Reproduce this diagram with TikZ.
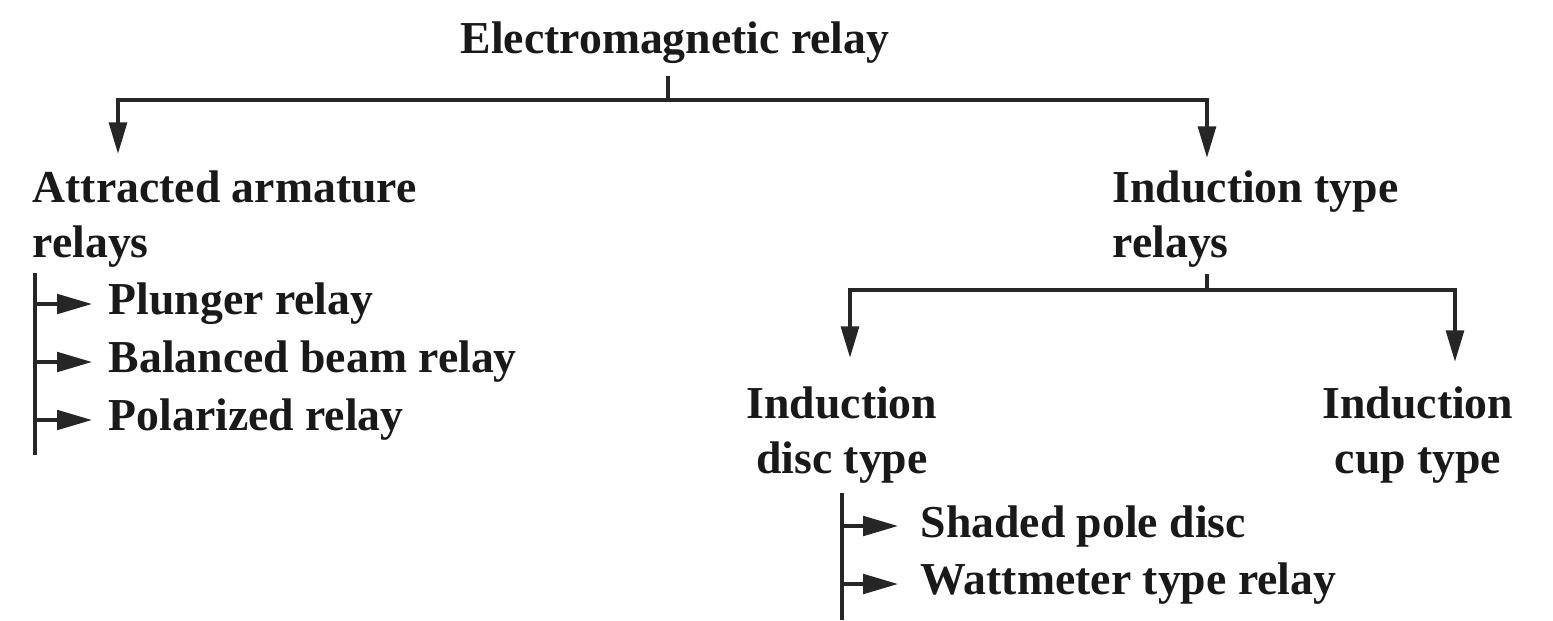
\documentclass[tikz,border=0pt]{standalone}
\usepackage{fontspec}
\setmainfont{Liberation Serif}
\usetikzlibrary{arrows.meta}
\tikzset{
  lbl/.style={font=\fontsize{13}{15.6}\selectfont\bfseries, inner sep=0pt, text=black!90},
  ln/.style={line width=1.2pt, draw=black!85},
  arr/.style={ln, -{Triangle[length=9pt,width=5pt]}},
  sarr/.style={ln, -{Triangle[length=10pt,width=5.5pt]}},
}
\begin{document}
\begin{tikzpicture}[x=0.01cm,y=-0.01cm]
\useasboundingbox[fill=white] (0,0) rectangle (1553,620);

% text nodes
\node[lbl, anchor=base] (em) at (675,53) {Electromagnetic relay};
\node[lbl, anchor=north west, align=left] (aa) at (32,170) {Attracted armature\\relays};
\node[lbl, anchor=north west, align=left] (it) at (1112,170) {Induction type\\relays};
\node[lbl, anchor=north, align=center] (idt) at (842,386) {Induction\\disc type};
\node[lbl, anchor=north, align=center] (ict) at (1418,386) {Induction\\cup type};
\node[lbl, anchor=west] (p1) at (108,304) {Plunger relay};
\node[lbl, anchor=west] (p2) at (108,362) {Balanced beam relay};
\node[lbl, anchor=west] (p3) at (108,420) {Polarized relay};
\node[lbl, anchor=west] (s1) at (920,526) {Shaded pole disc};
\node[lbl, anchor=west] (s2) at (920,584) {Wattmeter type relay};

% junction and end coordinates
\coordinate (b1) at (668,100);
\coordinate (a1) at (118,154);
\coordinate (a2) at (1207,158);
\coordinate (b2) at (1207,290);
\coordinate (c1) at (850,358);
\coordinate (c2) at (1455,362);
\coordinate (l1t) at (35,273);
\coordinate (l1b) at (35,455);
\coordinate (l2t) at (842,493);
\coordinate (l2b) at (842,620);

% first level
\draw[ln] (em.south -| b1) ++(0,12) -- (b1);
\draw[arr] (b1) -| (a1);
\draw[arr] (b1) -| (a2);

% second level
\draw[ln] (it.south -| b2) ++(0,6) -- (b2);
\draw[arr] (b2) -| (c1);
\draw[arr] (b2) -| (c2);

% attracted armature list
\draw[ln] (l1t) -- (l1b);
\draw[sarr, shorten >=4.5pt] (p1.west -| l1t) -- (p1.west);
\draw[sarr, shorten >=4.5pt] (p2.west -| l1t) -- (p2.west);
\draw[sarr, shorten >=4.5pt] (p3.west -| l1t) -- (p3.west);

% induction disc list
\draw[ln] (l2t) -- (l2b);
\draw[sarr, shorten >=6.2pt] (s1.west -| l2t) -- (s1.west);
\draw[sarr, shorten >=6.2pt] (s2.west -| l2t) -- (s2.west);
\end{tikzpicture}
\end{document}
